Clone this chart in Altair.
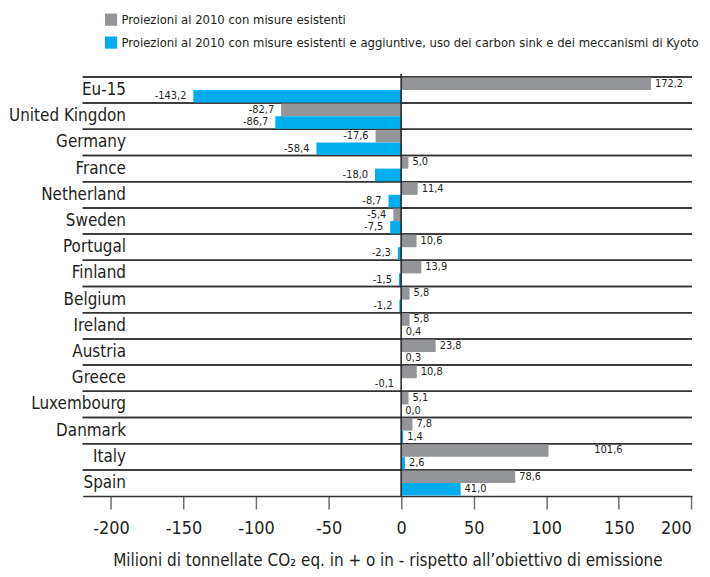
import altair as alt
import pandas as pd

countries = ["Eu-15", "United Kingdon", "Germany", "France", "Netherland", "Sweden",
             "Portugal", "Finland", "Belgium", "Ireland", "Austria", "Greece",
             "Luxembourg", "Danmark", "Italy", "Spain"]
existing = [172.2, -82.7, -17.6, 5.0, 11.4, -5.4, 10.6, 13.9, 5.8, 5.8, 23.8, 10.8,
            5.1, 7.8, 101.6, 78.6]
additional = [-143.2, -86.7, -58.4, -18.0, -8.7, -7.5, -2.3, -1.5, -1.2, 0.4, 0.3,
              -0.1, 0.0, 1.4, 2.6, 41.0]
series = ["Proiezioni al 2010 con misure esistenti",
          "Proiezioni al 2010 con misure esistenti e aggiuntive, uso dei carbon sink e dei meccanismi di Kyoto"]
x_ticks = [-200, -150, -100, -50, 0, 50, 100, 150, 200]

rows = []
for c, a, b in zip(countries, existing, additional):
    rows.append({"country": c, "serie": series[0], "value": a})
    rows.append({"country": c, "serie": series[1], "value": b})
df = pd.DataFrame(rows)
df["label"] = df["value"].map(lambda v: f"{v:.1f}".replace(".", ","))

FONT = "DejaVu Sans Condensed, Liberation Sans, sans-serif"
GRAY = "#939598"
BLUE = "#00aeef"
INK = "#231f20"

yenc = alt.Y("country:N", sort=countries,
             scale=alt.Scale(paddingInner=0, paddingOuter=0),
             axis=alt.Axis(title=None, ticks=False, domain=False, grid=False,
                           labelFontSize=17, labelFont=FONT, labelColor=INK,
                           labelPadding=-43))
xenc = alt.X("value:Q",
             scale=alt.Scale(domain=[-219.5, 200.5], nice=False, zero=False),
             axis=alt.Axis(values=x_ticks, labelExpr="'' + datum.value",
                           title="Milioni di tonnellate CO₂ eq. in + o in - rispetto all’obiettivo di emissione",
                           titleFont=FONT, titleFontSize=17, titleFontWeight="normal",
                           titleColor=INK, titlePadding=15,
                           labelFont=FONT, labelFontSize=18, labelColor=INK, labelPadding=11,
                           tickSize=13, tickColor="#6d6e71", tickWidth=1.5,
                           domainColor="#333333", domainWidth=1.5, grid=False))
yoff = alt.YOffset("serie:N", sort=series,
                   scale=alt.Scale(domain=series, paddingOuter=0.04, paddingInner=0))

base = alt.Chart(df)

grid = base.mark_rule(color="#333333", strokeWidth=1.5).encode(
    y=alt.Y("country:N", sort=countries, bandPosition=0)
)

bars = base.mark_bar().encode(
    x=xenc,
    y=yenc,
    yOffset=yoff,
    color=alt.Color("serie:N", sort=series,
                    scale=alt.Scale(domain=series, range=[GRAY, BLUE]),
                    legend=alt.Legend(title=None, orient="none", legendX=22, legendY=-64,
                                      direction="vertical", symbolType="square",
                                      symbolSize=150, symbolStrokeWidth=0,
                                      labelFont=FONT, labelFontSize=13, labelColor=INK,
                                      labelLimit=0, rowPadding=9, labelOffset=4)),
)

zero = alt.Chart(alt.Data(values=[{"v": 0}])).mark_rule(color="#231f20", strokeWidth=1.5).encode(
    x=alt.X("v:Q"), y=alt.value(-3), y2=alt.value(421)
)

txt_common = dict(font=FONT, fontSize=11, color=INK, baseline="middle")
pos_txt = base.transform_filter(
    "datum.value >= 0 && !(datum.country == 'Italy' && datum.serie == '" + series[0] + "')"
).mark_text(align="left", dx=4, **txt_common).encode(
    x="value:Q", y=alt.Y("country:N", sort=countries), yOffset=yoff, text="label:N")
neg_txt = base.transform_filter("datum.value < 0").mark_text(
    align="right", dx=-7, **txt_common).encode(
    x="value:Q", y=alt.Y("country:N", sort=countries), yOffset=yoff, text="label:N")
italy_txt = base.transform_filter(
    "datum.country == 'Italy' && datum.serie == '" + series[0] + "'"
).mark_text(align="left", dx=46, **txt_common).encode(
    x="value:Q", y=alt.Y("country:N", sort=countries), yOffset=yoff, text="label:N")

chart = alt.layer(grid, bars, zero, pos_txt, neg_txt, italy_txt).properties(
    width=612, height=421,
    autosize=alt.AutoSizeParams(type="none"),
    padding={"left": 75, "top": 68, "right": 10, "bottom": 72},
).configure_view(stroke=None)

chart.save("out.html", embed_options={"renderer": "svg", "actions": False})
